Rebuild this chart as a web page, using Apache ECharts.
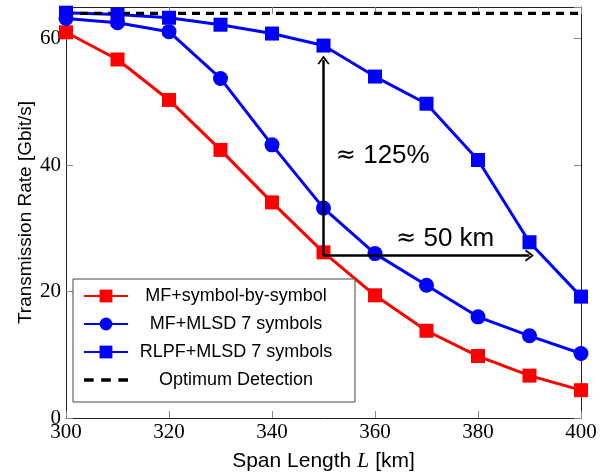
<!DOCTYPE html>
<html>
<head>
<meta charset="utf-8">
<script src="https://cdn.jsdelivr.net/npm/echarts@6/dist/echarts.min.js"></script>
<style>html,body{margin:0;padding:0;background:#fff}#c{width:608px;height:472px}</style>
</head>
<body>
<div id="c"></div>
<script>
const spanLength = [300, 310, 320, 330, 340, 350, 360, 370, 380, 390, 400];
const mfSymbolBySymbol = [61.0, 56.7, 50.3, 42.4, 34.1, 26.2, 19.4, 13.8, 9.8, 6.7, 4.4];
const mfMlsd7 = [63.2, 62.5, 61.1, 53.7, 43.2, 33.2, 26.0, 21.0, 16.0, 13.0, 10.2];
const rlpfMlsd7 = [64.1, 63.8, 63.3, 62.2, 60.8, 58.9, 54.0, 49.7, 40.8, 27.8, 19.2];
const optimumX = [300, 400];
const optimumY = [64.0, 64.0];
const seriesNames = ['MF+symbol-by-symbol', 'MF+MLSD 7 symbols', 'RLPF+MLSD 7 symbols', 'Optimum Detection'];
const xTicks = [300, 320, 340, 360, 380, 400];
const yTicks = [0, 20, 40, 60];
const arrowOrigin = [350, 25.7];
const arrowUpEnd = [350, 56.6];
const arrowRightEnd = [390, 25.7];
const annot125 = { coord: [352.3, 41.4], text: '≈ 125%' };
const annot50 = { coord: [364.0, 28.4], text: '≈ 50 km' };

const pairs = (xs, ys) => xs.map((x, i) => [x, ys[i]]);
const SANS = 'Liberation Sans';
const SERIF = 'Liberation Serif';
const tickColor = '#888';
const axisCol = '#222';

const chevron = 'path://M0,10 L6,0 L12,10 L10.6,11.2 L6,3.6 L1.4,11.2 Z';
const dashIcon = 'path://M0,0 H9 V3.4 H0 Z M16,0 H25 V3.4 H16 Z M32,0 H41 V3.4 H32 Z';

function xAx(pos, showLabel) {
  return {
    type: 'value', position: pos, min: 300, max: 400, interval: 20,
    axisLine: { show: true, onZero: false, lineStyle: { color: axisCol, width: 1 } },
    axisTick: { show: true, inside: true, length: 7, lineStyle: { color: tickColor, width: 1 } },
    splitLine: { show: false },
    axisLabel: { show: showLabel, margin: 4, fontFamily: SERIF, fontSize: 21, color: '#000',
      formatter: v => xTicks.includes(v) ? String(v) : '' },
    name: showLabel ? '{a|Span Length }{i|L}{a| [km]}' : '',
    nameLocation: 'middle', nameGap: 32, nameMoveOverlap: false,
    nameTextStyle: { rich: { a: { fontFamily: SANS, fontSize: 21, color: '#000' },
                             i: { fontFamily: SERIF, fontStyle: 'italic', fontSize: 22, color: '#000' } } }
  };
}
function yAx(pos, showLabel) {
  return {
    type: 'value', position: pos, min: 0, max: 65, interval: 20,
    axisLine: { show: true, onZero: false, lineStyle: { color: axisCol, width: 1 } },
    axisTick: { show: true, inside: true, length: 7, lineStyle: { color: tickColor, width: 1 } },
    splitLine: { show: false },
    axisLabel: { show: showLabel, margin: 5, fontFamily: SERIF, fontSize: 21, color: '#000',
      showMaxLabel: false,
      formatter: v => yTicks.includes(v) ? String(v) : '' },
    name: showLabel ? 'Transmission Rate [Gbit/s]' : '',
    nameLocation: 'middle', nameGap: 31, nameMoveOverlap: false,
    nameTextStyle: { fontFamily: SANS, fontSize: 19, color: '#000' }
  };
}

const chart = echarts.init(document.getElementById('c'), null, { renderer: 'canvas' });
chart.setOption({
  animation: false,
  backgroundColor: '#fff',
  grid: { left: 66, right: 27, top: 7, bottom: 54, containLabel: false, outerBoundsMode: 'none' },
  xAxis: [xAx('bottom', true), xAx('top', false)],
  yAxis: [yAx('left', true), yAx('right', false)],
  legend: {
    data: [seriesNames[0], seriesNames[1], seriesNames[2], { name: seriesNames[3], icon: dashIcon }],
    orient: 'vertical', left: 73, top: 279,
    backgroundColor: '#fff', borderColor: '#444', borderWidth: 1, borderRadius: 0,
    padding: [8, 16, 13, 10],
    itemWidth: 44, itemHeight: 16, itemGap: 10,
    textStyle: { fontFamily: SANS, fontSize: 18, color: '#000',
      rich: { c: { width: 206, align: 'center', fontFamily: SANS, fontSize: 18, color: '#000', lineHeight: 20 } } },
    formatter: n => '{c|' + n + '}'
  },
  series: [
    { name: seriesNames[0], type: 'line', data: pairs(spanLength, mfSymbolBySymbol),
      symbol: 'rect', symbolSize: 14, color: '#ff0000',
      lineStyle: { width: 3, color: '#ff0000' }, itemStyle: { color: '#ff0000' } },
    { name: seriesNames[1], type: 'line', data: pairs(spanLength, mfMlsd7),
      symbol: 'circle', symbolSize: 15, color: '#0000ff',
      lineStyle: { width: 3, color: '#0000ff' }, itemStyle: { color: '#0000ff' } },
    { name: seriesNames[2], type: 'line', data: pairs(spanLength, rlpfMlsd7),
      symbol: 'rect', symbolSize: 14, color: '#0000ff',
      lineStyle: { width: 3, color: '#0000ff' }, itemStyle: { color: '#0000ff' } },
    { name: seriesNames[3], type: 'line', data: pairs(optimumX, optimumY),
      symbol: 'none', color: '#000',
      lineStyle: { width: 3.2, color: '#000', type: [8, 6] }, itemStyle: { color: '#000' } },
    { name: 'annotations', type: 'line', data: [], symbol: 'none',
      markLine: {
        silent: true, symbol: ['none', chevron], symbolSize: [12, 9],
        lineStyle: { color: '#000', width: 2.5, type: 'solid' },
        label: { show: false },
        data: [
          [{ coord: arrowOrigin }, { coord: arrowUpEnd }],
          [{ coord: arrowOrigin }, { coord: arrowRightEnd }]
        ]
      },
      markPoint: {
        silent: true, symbol: 'circle', symbolSize: 1, itemStyle: { color: 'rgba(0,0,0,0)' },
        label: { show: true, position: 'right', distance: 0, color: '#000',
          formatter: p => {
            const parts = p.name.split(' ');
            return '{s|' + parts[0] + '}{t| ' + parts.slice(1).join(' ') + '}';
          },
          rich: {
            s: { fontFamily: 'DejaVu Sans', fontSize: 24, color: '#000' },
            t: { fontFamily: SANS, fontSize: 26, color: '#000' }
          }
        },
        data: [
          { coord: annot125.coord, name: annot125.text },
          { coord: annot50.coord, name: annot50.text }
        ]
      }
    }
  ]
});
</script>
</body>
</html>
